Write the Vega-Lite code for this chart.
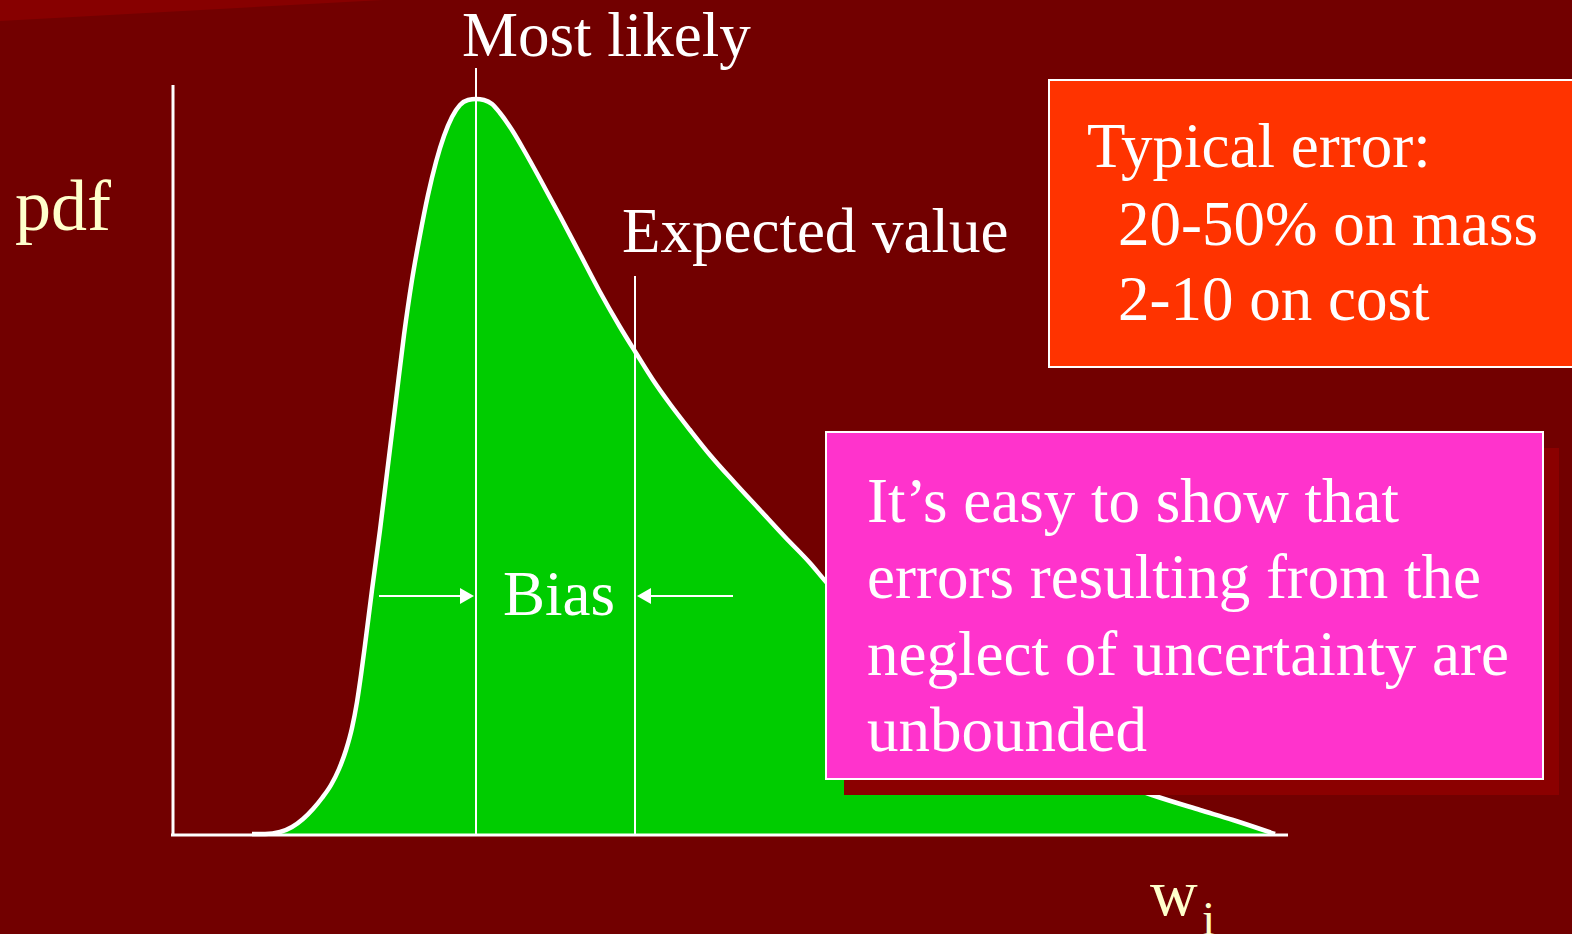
{
  "$schema": "https://vega.github.io/schema/vega-lite/v6.json",
  "width": 1572,
  "height": 934,
  "autosize": {"type": "none"},
  "padding": 0,
  "background": "#720000",
  "config": {"view": {"stroke": null}},
  "datasets": {
    "band": [{"x": 0, "top": 0, "bottom": 21}, {"x": 383, "top": 0, "bottom": 0}],
    "curve": [
      {"x": 252, "y": 834}, {"x": 265, "y": 834}, {"x": 280, "y": 832}, {"x": 292, "y": 827},
      {"x": 303, "y": 819}, {"x": 313, "y": 809}, {"x": 322, "y": 798}, {"x": 331, "y": 785},
      {"x": 339, "y": 769}, {"x": 346, "y": 750}, {"x": 352, "y": 728}, {"x": 357, "y": 702},
      {"x": 361, "y": 675}, {"x": 365, "y": 645},
      {"x": 372, "y": 590}, {"x": 380, "y": 530}, {"x": 388, "y": 465}, {"x": 396, "y": 400},
      {"x": 404, "y": 335}, {"x": 412, "y": 280}, {"x": 420, "y": 235}, {"x": 428, "y": 195},
      {"x": 436, "y": 162}, {"x": 444, "y": 136}, {"x": 452, "y": 117}, {"x": 460, "y": 105},
      {"x": 468, "y": 100}, {"x": 476, "y": 99}, {"x": 484, "y": 100}, {"x": 492, "y": 104},
      {"x": 500, "y": 113}, {"x": 512, "y": 130}, {"x": 525, "y": 152}, {"x": 540, "y": 179},
      {"x": 560, "y": 216}, {"x": 580, "y": 254}, {"x": 600, "y": 292}, {"x": 620, "y": 327},
      {"x": 636, "y": 353}, {"x": 653, "y": 380}, {"x": 670, "y": 404}, {"x": 690, "y": 430},
      {"x": 710, "y": 455}, {"x": 735, "y": 483}, {"x": 760, "y": 510}, {"x": 785, "y": 537},
      {"x": 810, "y": 563}, {"x": 827, "y": 583}, {"x": 860, "y": 615}, {"x": 900, "y": 652},
      {"x": 950, "y": 695}, {"x": 1000, "y": 728}, {"x": 1050, "y": 755}, {"x": 1100, "y": 776},
      {"x": 1152, "y": 795}, {"x": 1200, "y": 810}, {"x": 1233, "y": 820}, {"x": 1275, "y": 834}
    ],
    "axes": [
      {"x": 173, "x2": 173, "y": 85, "y2": 835},
      {"x": 171, "x2": 1288, "y": 835, "y2": 835}
    ],
    "markers": [
      {"x": 476, "x2": 476, "y": 68, "y2": 834},
      {"x": 635, "x2": 635, "y": 276, "y2": 834}
    ],
    "shafts": [
      {"x": 379, "x2": 462, "y": 596, "y2": 596},
      {"x": 650, "x2": 733, "y": 596, "y2": 596}
    ],
    "headR": [{"x": 467, "y": 596}],
    "headL": [{"x": 644, "y": 596}],
    "orange": [{"x": 1049, "x2": 1580, "y": 80, "y2": 367}],
    "shadow": [{"x": 844, "x2": 1559, "y": 448, "y2": 795}],
    "pink": [{"x": 826, "x2": 1543, "y": 432, "y2": 779}],
    "whiteText": [
      {"t": "Most likely", "x": 462, "y": 56},
      {"t": "Expected value", "x": 622, "y": 252},
      {"t": "Bias", "x": 503, "y": 615},
      {"t": "Typical error:", "x": 1087, "y": 167},
      {"t": "20-50% on mass", "x": 1118, "y": 245},
      {"t": "2-10 on cost", "x": 1118, "y": 320},
      {"t": "It’s easy to show that", "x": 867, "y": 522},
      {"t": "errors resulting from the", "x": 867, "y": 598},
      {"t": "neglect of uncertainty are", "x": 867, "y": 675},
      {"t": "unbounded", "x": 867, "y": 751}
    ],
    "pdf": [{"t": "pdf", "x": 15, "y": 230}],
    "w": [{"t": "w", "x": 1150, "y": 915}],
    "sub": [{"t": "i", "x": 1202, "y": 935}]
  },
  "encoding": {
    "x": {"field": "x", "type": "quantitative", "axis": null, "scale": {"domain": [0, 1572], "nice": false, "zero": false}},
    "y": {"field": "y", "type": "quantitative", "axis": null, "scale": {"domain": [0, 934], "nice": false, "zero": false, "reverse": true}}
  },
  "layer": [
    {
      "data": {"name": "band"},
      "mark": {"type": "area", "color": "#870000"},
      "encoding": {"y": {"field": "bottom", "type": "quantitative"}, "y2": {"field": "top"}}
    },
    {
      "data": {"name": "curve"},
      "mark": {"type": "area", "color": "#00cc00", "interpolate": "monotone"},
      "encoding": {"y2": {"datum": 834}}
    },
    {
      "data": {"name": "curve"},
      "mark": {"type": "line", "color": "white", "strokeWidth": 4.5, "interpolate": "monotone"},
      "encoding": {}
    },
    {
      "data": {"name": "axes"},
      "mark": {"type": "rule", "color": "white", "strokeWidth": 3},
      "encoding": {"x2": {"field": "x2"}, "y2": {"field": "y2"}}
    },
    {
      "data": {"name": "markers"},
      "mark": {"type": "rule", "color": "white", "strokeWidth": 2},
      "encoding": {"x2": {"field": "x2"}, "y2": {"field": "y2"}}
    },
    {
      "data": {"name": "shafts"},
      "mark": {"type": "rule", "color": "white", "strokeWidth": 2},
      "encoding": {"x2": {"field": "x2"}, "y2": {"field": "y2"}}
    },
    {
      "data": {"name": "headR"},
      "mark": {"type": "point", "shape": "triangle-right", "filled": true, "color": "white", "opacity": 1, "size": 260},
      "encoding": {}
    },
    {
      "data": {"name": "headL"},
      "mark": {"type": "point", "shape": "triangle-left", "filled": true, "color": "white", "opacity": 1, "size": 260},
      "encoding": {}
    },
    {
      "data": {"name": "orange"},
      "mark": {"type": "rect", "fill": "#ff3300", "stroke": "white", "strokeWidth": 2},
      "encoding": {"x2": {"field": "x2"}, "y2": {"field": "y2"}}
    },
    {
      "data": {"name": "shadow"},
      "mark": {"type": "rect", "fill": "#8b0000"},
      "encoding": {"x2": {"field": "x2"}, "y2": {"field": "y2"}}
    },
    {
      "data": {"name": "pink"},
      "mark": {"type": "rect", "fill": "#ff33cc", "stroke": "white", "strokeWidth": 2},
      "encoding": {"x2": {"field": "x2"}, "y2": {"field": "y2"}}
    },
    {
      "data": {"name": "whiteText"},
      "mark": {"type": "text", "font": "Liberation Serif", "fontSize": 63, "color": "white", "align": "left", "baseline": "alphabetic"},
      "encoding": {"text": {"field": "t"}}
    },
    {
      "data": {"name": "pdf"},
      "mark": {"type": "text", "font": "Liberation Serif", "fontSize": 72, "color": "#ffffcc", "align": "left", "baseline": "alphabetic"},
      "encoding": {"text": {"field": "t"}}
    },
    {
      "data": {"name": "w"},
      "mark": {"type": "text", "font": "Liberation Serif", "fontSize": 66, "color": "#ffffcc", "align": "left", "baseline": "alphabetic"},
      "encoding": {"text": {"field": "t"}}
    },
    {
      "data": {"name": "sub"},
      "mark": {"type": "text", "font": "Liberation Serif", "fontSize": 48, "color": "#ffffcc", "align": "left", "baseline": "alphabetic"},
      "encoding": {"text": {"field": "t"}}
    }
  ]
}
